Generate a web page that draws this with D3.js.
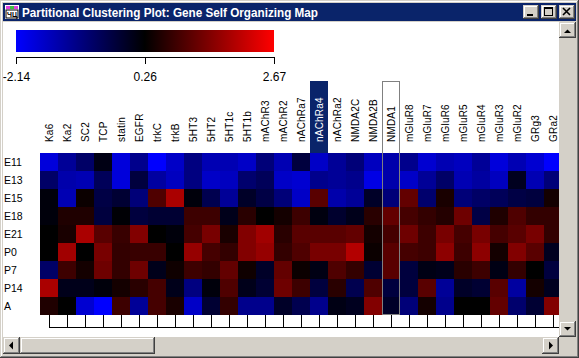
<!DOCTYPE html>
<html><head><meta charset="utf-8">
<script src="https://cdn.jsdelivr.net/npm/d3@7/dist/d3.min.js"></script>
<style>body{margin:0;overflow:hidden;background:#D4D0C8}</style>
</head><body>
<svg id="c" width="579" height="358"></svg>
<script>
const title = "Partitional Clustering Plot: Gene Self Organizing Map";
const columns = ["Ka6","Ka2","SC2","TCP","statin","EGFR","trkC","trkB","5HT3","5HT2","5HT1c","5HT1b","mAChR3","mAChR2","nAChRa7","nAChRa4","nAChRa2","NMDA2C","NMDA2B","NMDA1","mGluR8","mGluR7","mGluR6","mGluR5","mGluR4","mGluR3","mGluR2","GRg3","GRa2"];
const rows = ["E11","E13","E15","E18","E21","P0","P7","P14","A"];
const E11 = [-1.80,-1.16,-0.70,0.07,-1.80,-1.06,-2.14,-1.61,-0.94,-1.42,-1.42,-1.61,-0.87,-1.42,-0.32,-1.61,-1.16,-0.87,-1.54,-1.35,-1.06,-1.71,-1.42,-1.54,-1.16,-1.80,-1.42,-1.71,-2.14];
const E13 = [-0.70,-1.35,-1.42,-0.58,-1.80,-0.32,-1.25,-1.54,-0.94,-1.61,-1.54,-0.77,-0.58,-1.61,-1.71,-1.06,-1.16,-1.06,-1.90,-1.35,-1.61,-1.16,-0.70,-1.42,-1.25,-1.54,-0.03,-1.42,-0.87];
const E15 = [0.16,-1.42,0.36,-0.39,-0.22,-0.87,1.01,1.87,0.16,-0.48,-1.16,-0.12,-0.39,-0.87,-1.61,1.10,-1.35,-1.16,-0.12,-0.87,1.20,-0.77,0.50,-0.87,-0.70,-0.58,-0.39,-0.32,0.45];
const E18 = [0.16,0.55,0.55,-0.32,0.21,-0.32,-0.22,-0.22,0.84,0.84,0.02,0.65,0.26,0.45,0.84,0.12,-0.17,0.02,0.65,1.20,0.91,0.74,0.60,1.30,-0.39,0.55,1.01,0.74,0.74];
const E21 = [0.26,0.50,1.87,1.10,0.79,1.49,0.26,0.16,0.91,1.39,0.50,1.49,1.78,0.65,1.10,1.10,1.10,1.20,0.45,0.91,1.30,0.84,1.39,0.91,1.39,0.91,1.10,1.39,0.74];
const P0  = [0.26,1.78,0.26,1.39,0.74,0.79,0.79,0.26,1.68,0.91,0.74,1.49,1.68,0.74,1.01,1.39,1.39,1.95,0.36,1.10,0.91,0.84,1.59,0.84,1.59,0.45,1.49,1.10,-0.03];
const P7  = [-0.70,0.84,0.45,1.30,0.74,1.30,0.02,0.40,0.84,0.74,1.20,0.40,-0.12,1.20,0.36,0.07,1.01,0.74,-0.22,1.10,-0.32,0.07,0.02,0.65,0.84,0.07,0.74,0.26,-0.32];
const P14 = [1.87,0.02,0.02,0.16,0.45,0.65,0.91,0.02,-0.94,0.16,1.01,0.02,-0.22,1.30,0.84,-0.32,0.65,-0.48,1.01,-0.32,-0.32,1.10,-1.16,-0.12,-0.22,1.10,-1.25,0.45,-0.03];
const A   = [0.55,0.26,-1.71,-2.14,0.84,-1.16,0.91,0.50,-1.61,-0.22,0.74,-1.06,-1.06,-0.12,-0.48,-1.06,0.07,-0.03,1.49,-0.12,-0.87,0.45,-1.06,0.26,0.26,1.20,-0.77,-0.22,1.49];
const colorDomain = [-2.14, 0.26, 2.67];
const colorRange = ["#0000ff","#000000","#ff0000"];
const colorTickLabels = ["-2.14","0.26","2.67"];
const selectedColumn = "nAChRa4";
const outlinedColumn = "NMDA1";

const matrix = [E11,E13,E15,E18,E21,P0,P7,P14,A];
const cells = [];
rows.forEach((r,i)=>columns.forEach((c,j)=>cells.push({row:r,col:c,v:matrix[i][j]})));

const svg = d3.select("#c");
const FACE="#D4D0C8", DARK="#404040", SHADOW="#808080", NAVY="#0A246A";

function bevel(g,x,y,w,h){
  g.append("rect").attr("x",x).attr("y",y).attr("width",w).attr("height",h).attr("fill",FACE);
  const L=(x1,y1,x2,y2,c)=>g.append("line").attr("x1",x1).attr("y1",y1).attr("x2",x2).attr("y2",y2).attr("stroke",c).attr("stroke-width",1).attr("shape-rendering","crispEdges");
  L(x,y+0.5,x+w-1,y+0.5,FACE); L(x+0.5,y,x+0.5,y+h-1,FACE);
  L(x+1,y+1.5,x+w-2,y+1.5,"#fff"); L(x+1.5,y+1,x+1.5,y+h-2,"#fff");
  L(x,y+h-0.5,x+w,y+h-0.5,DARK); L(x+w-0.5,y,x+w-0.5,y+h,DARK);
  L(x+1,y+h-1.5,x+w-1,y+h-1.5,SHADOW); L(x+w-1.5,y+1,x+w-1.5,y+h-1,SHADOW);
}

// window frame
svg.append("rect").attr("width",579).attr("height",358).attr("fill",FACE);
svg.append("line").attr("x1",0).attr("y1",0.5).attr("x2",579).attr("y2",0.5).attr("stroke",FACE);
svg.append("line").attr("x1",1).attr("y1",1.5).attr("x2",577).attr("y2",1.5).attr("stroke","#fff");
svg.append("line").attr("x1",1.5).attr("y1",1).attr("x2",1.5).attr("y2",357).attr("stroke","#fff");
svg.append("line").attr("x1",0).attr("y1",357.5).attr("x2",579).attr("y2",357.5).attr("stroke",DARK);
svg.append("line").attr("x1",578.5).attr("y1",0).attr("x2",578.5).attr("y2",358).attr("stroke",DARK);
svg.append("line").attr("x1",1).attr("y1",356.5).attr("x2",578).attr("y2",356.5).attr("stroke",SHADOW);
svg.append("line").attr("x1",577.5).attr("y1",1).attr("x2",577.5).attr("y2",357).attr("stroke",SHADOW);

// title bar
svg.append("rect").attr("x",3).attr("y",3).attr("width",573).attr("height",18).attr("fill",NAVY);
const icon = svg.append("g");
icon.append("rect").attr("x",5).attr("y",5).attr("width",14).attr("height",14).attr("fill","#fff");
icon.append("rect").attr("x",6).attr("y",6).attr("width",4).attr("height",3).attr("fill","#e040e0");
icon.append("rect").attr("x",10).attr("y",6).attr("width",4).attr("height",3).attr("fill","#40c040");
icon.append("rect").attr("x",14).attr("y",6).attr("width",4).attr("height",3).attr("fill","#e040e0");
icon.append("rect").attr("x",6).attr("y",10).attr("width",12).attr("height",8).attr("fill","none").attr("stroke","#000");
icon.append("text").attr("x",12).attr("y",17).attr("text-anchor","middle").attr("font-family","Liberation Sans").attr("font-size",7).attr("font-weight","bold").text("ЧЦ");
svg.append("text").attr("x",22).attr("y",17).attr("fill","#fff").attr("font-family","Liberation Sans, Arial").attr("font-weight","bold").attr("font-size",13)
  .attr("textLength",296).attr("lengthAdjust","spacingAndGlyphs").text(title);
// caption buttons
[[523,"min"],[541,"max"],[559,"close"]].forEach(([x,t])=>{
  const g=svg.append("g"); bevel(g,x,5,16,14);
  if(t==="min") g.append("rect").attr("x",x+4).attr("y",14).attr("width",6).attr("height",2).attr("fill","#000");
  if(t==="max"){ g.append("rect").attr("x",x+3.5).attr("y",7.5).attr("width",8).attr("height",8).attr("fill","none").attr("stroke","#000");
    g.append("rect").attr("x",x+3).attr("y",7).attr("width",9).attr("height",2).attr("fill","#000");}
  if(t==="close"){ g.append("path").attr("d",`M${x+4},${8}L${x+11},${15}M${x+11},${8}L${x+4},${15}`).attr("stroke","#000").attr("stroke-width",1.6);}
});

// client white area
svg.append("rect").attr("x",3).attr("y",22).attr("width",556).attr("height",315).attr("fill","#fff");

svg.append("clipPath").attr("id","clip").append("rect").attr("x",3).attr("y",22).attr("width",556).attr("height",315);
const plot = svg.append("g").attr("clip-path","url(#clip)");

// colour bar
const color = d3.scaleLinear().domain(colorDomain).range(colorRange);
const cbX = d3.scaleLinear().domain([colorDomain[0],colorDomain[2]]).range([16,274]);
const defs = svg.append("defs");
const grad = defs.append("linearGradient").attr("id","cbg").attr("x1","0%").attr("x2","100%");
colorDomain.forEach((d,i)=>grad.append("stop").attr("offset",(cbX(d)-16)/(274-16)).attr("stop-color",colorRange[i]));
plot.append("rect").attr("x",cbX(colorDomain[0])).attr("y",30).attr("width",cbX(colorDomain[2])-cbX(colorDomain[0])).attr("height",22).attr("fill","url(#cbg)");
const cbAxis = plot.append("g").attr("transform","translate(0,56.5)")
  .call(d3.axisBottom(cbX).tickValues(colorDomain).tickFormat((d,i)=>colorTickLabels[i]).tickSizeInner(7).tickSizeOuter(0));
cbAxis.select(".domain").attr("stroke","#000").attr("shape-rendering","crispEdges");
cbAxis.selectAll(".tick line").attr("stroke","#000").attr("shape-rendering","crispEdges");
cbAxis.selectAll(".tick text").attr("y",24).attr("dy",0).attr("fill","#000").attr("font-family","Liberation Sans, Arial").attr("font-size",12);

// heatmap scales
const x = d3.scaleBand().domain(columns).range([40,40+18*columns.length]).padding(0);
const y = d3.scaleBand().domain(rows).range([153,153+18*rows.length]).padding(0);

// selected column header
plot.append("rect").attr("x",x(selectedColumn)).attr("y",81).attr("width",x.bandwidth()).attr("height",72).attr("fill",NAVY);

plot.append("g").selectAll("rect").data(cells).join("rect")
  .attr("x",d=>x(d.col)).attr("y",d=>y(d.row)).attr("width",x.bandwidth()).attr("height",y.bandwidth())
  .attr("fill",d=>color(d.v)).attr("shape-rendering","crispEdges");

// column labels
plot.append("g").selectAll("text").data(columns).join("text")
  .attr("transform",d=>`translate(${x(d)+x.bandwidth()/2+4},142) rotate(-90)`)
  .attr("font-family","Liberation Sans, Arial").attr("font-size",10).attr("letter-spacing",0.2)
  .attr("fill",d=>d===selectedColumn?"#fff":"#000").text(d=>d);

// row labels
plot.append("g").selectAll("text").data(rows).join("text")
  .attr("x",4).attr("y",d=>y(d)+y.bandwidth()/2+4)
  .attr("font-family","Liberation Sans, Arial").attr("font-size",10.5).attr("fill","#000").text(d=>d);

// outlined column
plot.append("rect").attr("x",x(outlinedColumn)+0.5).attr("y",81.5).attr("width",x.bandwidth()-1).attr("height",315-81-1)
  .attr("fill","none").attr("stroke","#808080").attr("stroke-width",1);

// bottom tree
const treeTop = 153+18*rows.length, treeBot = treeTop+12;
plot.append("g").selectAll("line").data(columns).join("line")
  .attr("x1",d=>Math.floor(x(d)+x.bandwidth()/2)+0.5).attr("x2",d=>Math.floor(x(d)+x.bandwidth()/2)+0.5)
  .attr("y1",treeTop).attr("y2",treeBot).attr("stroke","#000");
plot.append("line").attr("x1",x(columns[0])+x.bandwidth()/2).attr("x2",x(columns[columns.length-1])+x.bandwidth())
  .attr("y1",treeBot+0.5).attr("y2",treeBot+0.5).attr("stroke","#000");

// vertical scrollbar
svg.append("rect").attr("x",559).attr("y",22).attr("width",17).attr("height",315).attr("fill",FACE);
bevel(svg,559,22,17,16);
svg.append("path").attr("d","M564,33L571,33L567.5,29.5Z").attr("fill","#000");
bevel(svg,559,321,17,16);
svg.append("path").attr("d","M564,327L571,327L567.5,330.5Z").attr("fill","#000");
// horizontal scrollbar
svg.append("rect").attr("x",3).attr("y",337).attr("width",556).attr("height",17).attr("fill",FACE);
bevel(svg,3,337,17,17);
svg.append("path").attr("d","M13,341.5L13,349.5L9,345.5Z").attr("fill","#000");
bevel(svg,20,337,135,17);
bevel(svg,542,337,17,17);
svg.append("path").attr("d","M549,341.5L549,349.5L553,345.5Z").attr("fill","#000");
svg.append("rect").attr("x",559).attr("y",337).attr("width",17).attr("height",17).attr("fill",FACE);
</script>
</body></html>
